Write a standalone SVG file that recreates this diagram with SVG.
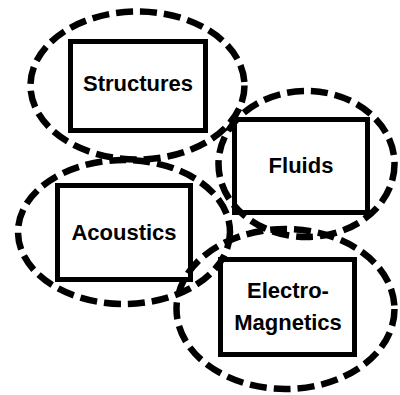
<svg xmlns="http://www.w3.org/2000/svg" width="400" height="395" viewBox="0 0 400 395">
<style>
.ring{fill:none;stroke:#000;stroke-width:6.5;stroke-dasharray:17 7}
.box{fill:#fff;stroke:#000;stroke-width:5}
.lbl{font-family:"Liberation Sans",Arial,sans-serif;font-weight:bold;font-size:22px;text-anchor:middle;fill:#000}
</style>
<rect width="400" height="395" fill="#fff"/>
<g id="node-structures">
<rect class="box" x="70.5" y="41.5" width="135" height="89"/>
<text class="lbl" x="138" y="91">Structures</text>
</g>
<g id="node-fluids">
<rect class="box" x="234.5" y="119.5" width="133" height="93"/>
<text class="lbl" x="301" y="173">Fluids</text>
</g>
<g id="node-acoustics">
<rect class="box" x="57.5" y="185.5" width="133" height="94"/>
<text class="lbl" x="124" y="240">Acoustics</text>
</g>
<g id="node-electromagnetics">
<rect class="box" x="220.5" y="259.5" width="134" height="95"/>
<text class="lbl" x="288" y="298">Electro-</text>
<text class="lbl" x="288" y="330">Magnetics</text>
</g>
<g id="connectors">
<ellipse class="ring" cx="137.5" cy="85.5" rx="107" ry="74"/>
<ellipse class="ring" cx="306.5" cy="164" rx="88" ry="73"/>
<ellipse class="ring" cx="124" cy="232" rx="106" ry="72"/>
<ellipse class="ring" cx="285.5" cy="309" rx="109" ry="80"/>
</g>
</svg>
